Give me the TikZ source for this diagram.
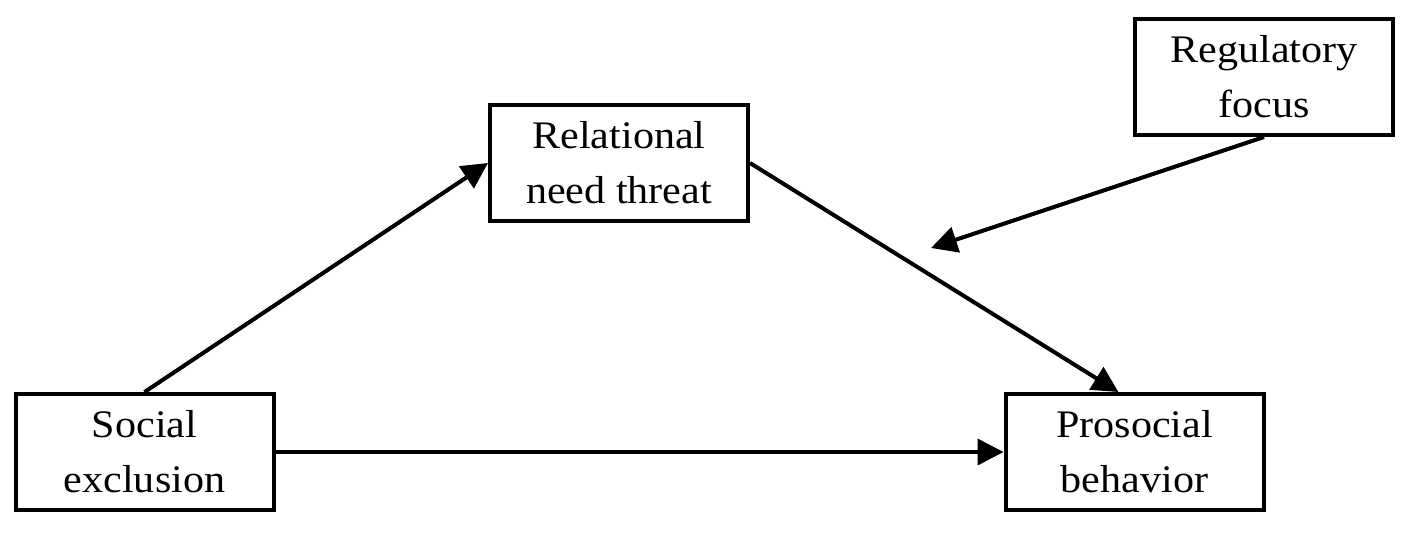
\documentclass[tikz,border=0pt]{standalone}
\usepackage{fontspec}
\setmainfont{Liberation Serif}[FakeStretch=1.08]
\usetikzlibrary{arrows.meta}

\begin{document}
\begin{tikzpicture}[x=50pt,y=-50pt,
	var/.style={draw,line width=2pt,minimum width=129pt,minimum height=58pt,inner sep=0pt,align=center,font=\fontsize{19.5}{27.5}\selectfont},
	link/.style={line width=2pt,-{Triangle[length=13pt,width=13pt]}}]
	\useasboundingbox (0,0) rectangle (14.17,5.32);
	\node (se) at (1.445,4.52) [var] {Social\\exclusion};
	\node (rnt) at (6.19,1.63) [var] {Relational\\need threat};
	\node (rf) at (12.64,0.77) [var] {Regulatory\\focus};
	\node (pb) at (11.345,4.52) [var] {Prosocial\\behavior};
	\coordinate (m) at (9.31,2.48);
	\draw[link] (se.north) -- (rnt.west);
	\draw[link] (rnt.east) -- (pb.105);
	\draw[link] (rf.south) -- (m);
	\draw[link] (se.east) -- (pb.west);
\end{tikzpicture}
\end{document}
